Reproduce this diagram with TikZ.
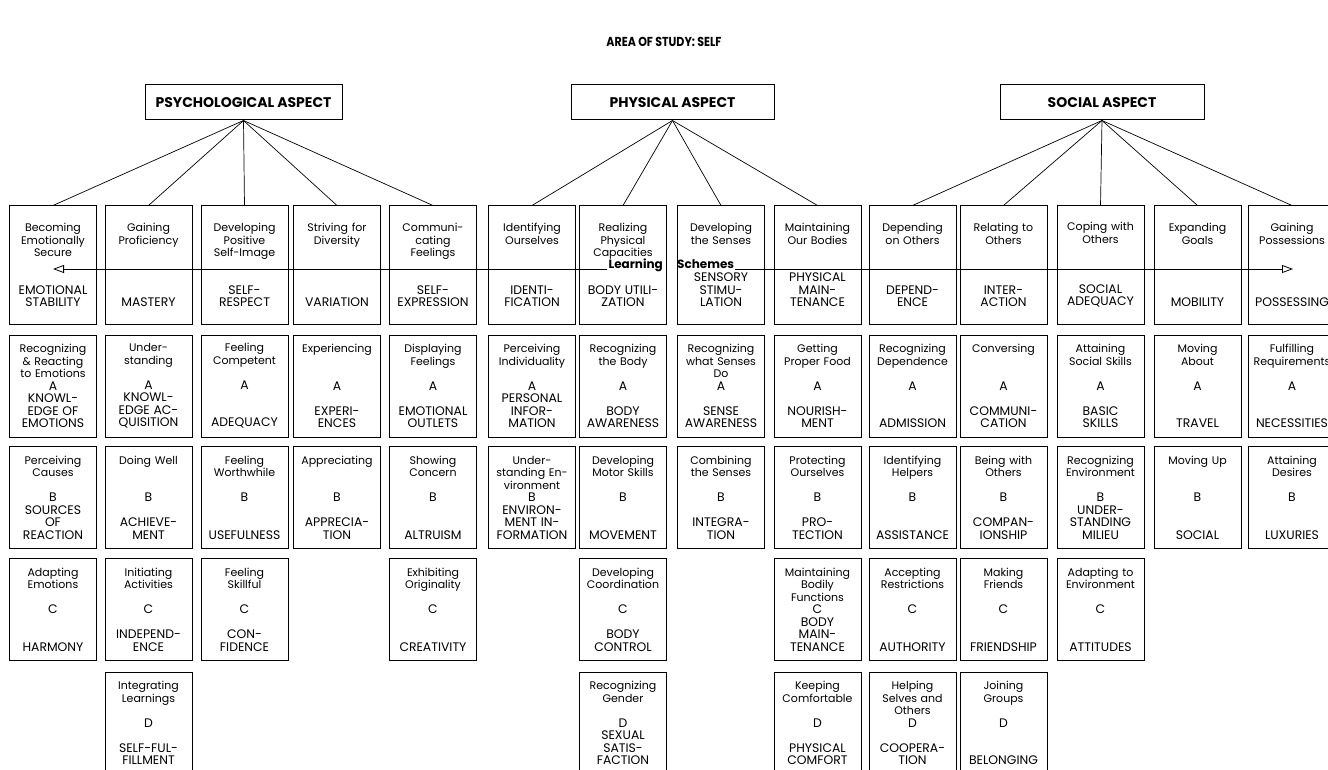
\documentclass[tikz,border=0pt]{standalone}
\usepackage{fontspec}
\setmainfont{Poppins}
\newfontfamily\headfont{Poppins}[FakeStretch=0.85]
\usetikzlibrary{arrows.meta,positioning}

\newcommand{\conceptfont}{\fontsize{12.4}{12.5}\selectfont}

\tikzset{
  aspect/.style={draw, line width=1pt, minimum height=35pt, inner sep=0pt,
    font=\bfseries\fontsize{14}{16}\selectfont},
  topic/.style={draw, line width=1pt, minimum width=87pt, minimum height=102pt,
    inner sep=1pt, text width=85pt, align=center, font=\fontsize{11}{12.5}\selectfont},
  goal/.style={topic, minimum height=118pt},
  fan/.style={line width=0.7pt},
  flow/.style={line width=0.8pt, -{Triangle[open, length=11pt, width=8pt]}},
  scheme/.style={inner sep=1pt, font=\bfseries\fontsize{12}{14}\selectfont},
}

\begin{document}
\begin{tikzpicture}[x=1pt,y=-1pt]
  \useasboundingbox (0,0) rectangle (1328,770);
  \clip (0,0) rectangle (1328,770);

  \node[font=\headfont\bfseries\fontsize{13}{15}\selectfont] (title) at (664,42) {AREA OF STUDY: SELF};

  % the three aspects
  \node[aspect, minimum width=197pt] (psych) at (243.5,102.5) {PSYCHOLOGICAL ASPECT};
  \node[aspect, minimum width=203pt] (phys) at (672.5,102.5) {PHYSICAL ASPECT};
  \node[aspect, minimum width=204pt] (soc) at (1102,102.5) {SOCIAL ASPECT};

  % first row, crossed by the schemes line
  \node[goal] (stability) at (53,265) {Becoming\\Emotionally\\Secure\\\conceptfont~\\~\\EMOTIONAL\\STABILITY};
  \node[goal] (mastery) at (148.5,265) {Gaining\\Proficiency\\~\\\conceptfont~\\~\\~\\MASTERY};
  \node[goal] (respect) at (244.5,265) {Developing\\Positive\\Self-Image\\\conceptfont~\\~\\SELF-\\RESPECT};
  \node[goal] (variation) at (337,265) {Striving for\\Diversity\\~\\\conceptfont~\\~\\~\\VARIATION};
  \node[goal] (expression) at (433,265) {Communi-\\cating\\Feelings\\\conceptfont~\\~\\SELF-\\EXPRESSION};
  \node[goal] (identification) at (532,265) {Identifying\\Ourselves\\~\\\conceptfont~\\~\\IDENTI-\\FICATION};
  \node[goal] (utilization) at (623,265) {Realizing\\Physical\\Capacities\\\conceptfont~\\~\\BODY UTILI-\\ZATION};
  \node[goal] (stimulation) at (721,265) {Developing\\the Senses\\~\\\conceptfont~\\SENSORY\\STIMU-\\LATION};
  \node[goal] (maintenance) at (817.5,265) {Maintaining\\Our Bodies\\~\\\conceptfont~\\PHYSICAL\\MAIN-\\TENANCE};
  \node[goal] (dependence) at (912.5,265) {Depending\\on Others\\~\\\conceptfont~\\~\\DEPEND-\\ENCE};
  \node[goal] (interaction) at (1003.5,265) {Relating to\\Others\\~\\\conceptfont~\\~\\INTER-\\ACTION};
  \node[goal] (adequacy) at (1100.5,265) {Coping with\\Others\\~\\\conceptfont~\\~\\SOCIAL\\ADEQUACY};
  \node[goal] (mobility) at (1197.5,265) {Expanding\\Goals\\~\\\conceptfont~\\~\\~\\MOBILITY};
  \node[goal] (possessing) at (1292,265) {Gaining\\Possessions\\~\\\conceptfont~\\~\\~\\POSSESSING};

  % A
  \node[topic] (stability-a) at (53,386) {Recognizing\\\& Reacting\\to Emotions\\\conceptfont A\\KNOWL-\\EDGE OF\\EMOTIONS};
  \node[topic] (mastery-a) at (148.5,386) {Under-\\standing\\~\\\conceptfont A\\KNOWL-\\EDGE AC-\\QUISITION};
  \node[topic] (respect-a) at (244.5,386) {Feeling\\Competent\\~\\\conceptfont A\\~\\~\\ADEQUACY};
  \node[topic] (variation-a) at (337,386) {Experiencing\\~\\~\\\conceptfont A\\~\\EXPERI-\\ENCES};
  \node[topic] (expression-a) at (433,386) {Displaying\\Feelings\\~\\\conceptfont A\\~\\EMOTIONAL\\OUTLETS};
  \node[topic] (identification-a) at (532,386) {Perceiving\\Individuality\\~\\\conceptfont A\\PERSONAL\\INFOR-\\MATION};
  \node[topic] (utilization-a) at (623,386) {Recognizing\\the Body\\~\\\conceptfont A\\~\\BODY\\AWARENESS};
  \node[topic] (stimulation-a) at (721,386) {Recognizing\\what Senses\\Do\\\conceptfont A\\~\\SENSE\\AWARENESS};
  \node[topic] (maintenance-a) at (817.5,386) {Getting\\Proper Food\\~\\\conceptfont A\\~\\NOURISH-\\MENT};
  \node[topic] (dependence-a) at (912.5,386) {Recognizing\\Dependence\\~\\\conceptfont A\\~\\~\\ADMISSION};
  \node[topic] (interaction-a) at (1003.5,386) {Conversing\\~\\~\\\conceptfont A\\~\\COMMUNI-\\CATION};
  \node[topic] (adequacy-a) at (1100.5,386) {Attaining\\Social Skills\\~\\\conceptfont A\\~\\BASIC\\SKILLS};
  \node[topic] (mobility-a) at (1197.5,386) {Moving\\About\\~\\\conceptfont A\\~\\~\\TRAVEL};
  \node[topic] (possessing-a) at (1292,386) {Fulfilling\\Requirements\\~\\\conceptfont A\\~\\~\\NECESSITIES};

  % B
  \node[topic] (stability-b) at (53,497.5) {Perceiving\\Causes\\~\\\conceptfont B\\SOURCES\\OF\\REACTION};
  \node[topic] (mastery-b) at (148.5,497.5) {Doing Well\\~\\~\\\conceptfont B\\~\\ACHIEVE-\\MENT};
  \node[topic] (respect-b) at (244.5,497.5) {Feeling\\Worthwhile\\~\\\conceptfont B\\~\\~\\USEFULNESS};
  \node[topic] (variation-b) at (337,497.5) {Appreciating\\~\\~\\\conceptfont B\\~\\APPRECIA-\\TION};
  \node[topic] (expression-b) at (433,497.5) {Showing\\Concern\\~\\\conceptfont B\\~\\~\\ALTRUISM};
  \node[topic] (identification-b) at (532,497.5) {Under-\\standing En-\\vironment\\\conceptfont B\\ENVIRON-\\MENT IN-\\FORMATION};
  \node[topic] (utilization-b) at (623,497.5) {Developing\\Motor Skills\\~\\\conceptfont B\\~\\~\\MOVEMENT};
  \node[topic] (stimulation-b) at (721,497.5) {Combining\\the Senses\\~\\\conceptfont B\\~\\INTEGRA-\\TION};
  \node[topic] (maintenance-b) at (817.5,497.5) {Protecting\\Ourselves\\~\\\conceptfont B\\~\\PRO-\\TECTION};
  \node[topic] (dependence-b) at (912.5,497.5) {Identifying\\Helpers\\~\\\conceptfont B\\~\\~\\ASSISTANCE};
  \node[topic] (interaction-b) at (1003.5,497.5) {Being with\\Others\\~\\\conceptfont B\\~\\COMPAN-\\IONSHIP};
  \node[topic] (adequacy-b) at (1100.5,497.5) {Recognizing\\Environment\\~\\\conceptfont B\\UNDER-\\STANDING\\MILIEU};
  \node[topic] (mobility-b) at (1197.5,497.5) {Moving Up\\~\\~\\\conceptfont B\\~\\~\\SOCIAL};
  \node[topic] (possessing-b) at (1292,497.5) {Attaining\\Desires\\~\\\conceptfont B\\~\\~\\LUXURIES};

  % C
  \node[topic] (stability-c) at (53,609.5) {Adapting\\Emotions\\~\\\conceptfont C\\~\\~\\HARMONY};
  \node[topic] (mastery-c) at (148.5,609.5) {Initiating\\Activities\\~\\\conceptfont C\\~\\INDEPEND-\\ENCE};
  \node[topic] (respect-c) at (244.5,609.5) {Feeling\\Skillful\\~\\\conceptfont C\\~\\CON-\\FIDENCE};
  \node[topic] (expression-c) at (433,609.5) {Exhibiting\\Originality\\~\\\conceptfont C\\~\\~\\CREATIVITY};
  \node[topic] (utilization-c) at (623,609.5) {Developing\\Coordination\\~\\\conceptfont C\\~\\BODY\\CONTROL};
  \node[topic] (maintenance-c) at (817.5,609.5) {Maintaining\\Bodily\\Functions\\\conceptfont C\\BODY\\MAIN-\\TENANCE};
  \node[topic] (dependence-c) at (912.5,609.5) {Accepting\\Restrictions\\~\\\conceptfont C\\~\\~\\AUTHORITY};
  \node[topic] (interaction-c) at (1003.5,609.5) {Making\\Friends\\~\\\conceptfont C\\~\\~\\FRIENDSHIP};
  \node[topic] (adequacy-c) at (1100.5,609.5) {Adapting to\\Environment\\~\\\conceptfont C\\~\\~\\ATTITUDES};

  % D
  \node[topic] (mastery-d) at (148.5,723) {Integrating\\Learnings\\~\\\conceptfont D\\~\\SELF-FUL-\\FILLMENT};
  \node[topic] (utilization-d) at (623,723) {Recognizing\\Gender\\~\\\conceptfont D\\SEXUAL\\SATIS-\\FACTION};
  \node[topic] (maintenance-d) at (817.5,723) {Keeping\\Comfortable\\~\\\conceptfont D\\~\\PHYSICAL\\COMFORT};
  \node[topic] (dependence-d) at (912.5,723) {Helping\\Selves and\\Others\\\conceptfont D\\~\\COOPERA-\\TION};
  \node[topic] (interaction-d) at (1003.5,723) {Joining\\Groups\\~\\\conceptfont D\\~\\~\\BELONGING};

  % fans
  \foreach \t in {stability,mastery,respect,variation,expression}
    \draw[fan] (psych.south) -- (\t.north);
  \foreach \t in {identification,utilization,stimulation,maintenance}
    \draw[fan] (phys.south) -- (\t.north);
  \foreach \t in {dependence,interaction,adequacy,mobility,possessing}
    \draw[fan] (soc.south) -- (\t.north);

  % learning schemes
  \node[scheme, anchor=base east] (learning) at (664,269) {Learning};
  \node[scheme, anchor=base west] (schemes) at (676,269) {Schemes};
  \coordinate (schemes-w) at (53,269);
  \coordinate (schemes-e) at (1293,269);
  \draw[flow] (learning.base west) -- (schemes-w);
  \draw[flow] (schemes.base east) -- (schemes-e);
\end{tikzpicture}
\end{document}
